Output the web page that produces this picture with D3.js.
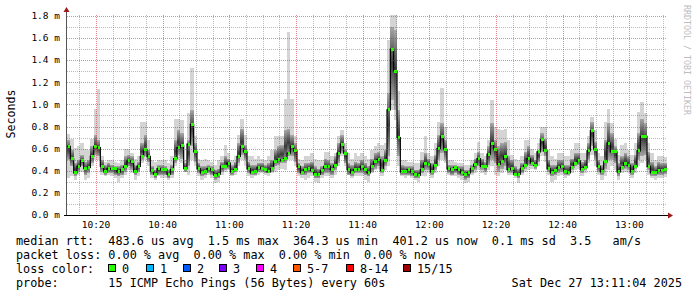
<!DOCTYPE html>
<html>
<head>
<meta charset="utf-8">
<script src="https://cdn.jsdelivr.net/npm/d3@7"></script>
<style>
  body { margin: 0; background: #fff; }
  svg { display: block; }
  text { font-family: "DejaVu Sans Mono", monospace; fill: #000; white-space: pre; }
</style>
</head>
<body>
<svg width="697" height="297"></svg>
<script>
// one value per minute, in ms
var median = [
  .62,.51,.38,.44,.49,.42,.43,.53,.62,.61, .44,.39,.42,.42,.42,.39,.41,.44,.49,.48,
  .39,.44,.53,.59,.53,.40,.37,.42,.41,.41, .37,.41,.51,.61,.63,.42,.64,.82,.57,.42,
  .38,.39,.42,.41,.36,.37,.44,.44,.47,.39, .41,.53,.62,.57,.42,.38,.39,.43,.42,.41,
  .39,.42,.48,.50,.49,.51,.56,.62,.58,.44, .38,.41,.42,.40,.37,.37,.40,.44,.44,.41,
  .45,.56,.64,.56,.41,.38,.41,.41,.44,.41, .38,.44,.48,.50,.40,.49,.95,1.50,1.30,.70,
  .39,.39,.41,.39,.37,.36,.41,.47,.46,.39, .45,.60,.71,.59,.42,.41,.43,.41,.38,.37,
  .38,.42,.46,.51,.44,.44,.55,.65,.59,.46, .48,.53,.41,.42,.37,.37,.42,.45,.51,.47,
  .45,.57,.68,.58,.42,.38,.40,.43,.44,.39, .38,.43,.47,.49,.41,.43,.58,.76,.59,.44,
  .39,.48,.65,.57,.57,.39,.43,.47,.45,.39, .44,.58,.71,.71,.44,.38,.38,.40,.40,.41
];
// fastest / slowest ping of each round (outer smoke)
var lo = [
  .33,.35,.32,.36,.39,.32,.33,.44,.50,.50, .36,.35,.36,.35,.33,.30,.33,.36,.41,.38,
  .32,.35,.47,.50,.44,.33,.32,.35,.33,.33, .32,.33,.44,.50,.47,.39,.36,.50,.44,.35,
  .32,.33,.36,.33,.29,.30,.36,.39,.41,.35, .36,.44,.50,.44,.35,.33,.35,.36,.38,.36,
  .35,.38,.39,.41,.42,.41,.50,.50,.44,.35, .33,.32,.33,.35,.30,.29,.33,.35,.35,.33,
  .36,.44,.53,.44,.36,.33,.35,.35,.35,.32, .30,.38,.41,.42,.35,.41,.44,.95,.86,.44,
  .35,.33,.35,.33,.32,.30,.35,.35,.38,.33, .38,.44,.50,.47,.36,.35,.35,.33,.32,.29,
  .30,.36,.38,.41,.38,.36,.41,.44,.36,.35, .38,.41,.36,.36,.33,.29,.36,.39,.41,.42,
  .41,.44,.53,.48,.36,.30,.32,.35,.36,.33, .35,.38,.41,.42,.35,.38,.47,.54,.44,.36,
  .32,.35,.41,.44,.41,.32,.38,.39,.38,.33, .38,.44,.47,.50,.36,.33,.32,.33,.33,.34
];
var hi = [
  .73,.69,.61,.62,.65,.60,.59,.69,.96,1.14, .53,.48,.50,.50,.48,.47,.50,.60,.60,.56,
  .51,.53,.84,.84,.68,.50,.48,.50,.50,.50, .47,.53,.87,.87,.86,.50,.92,1.33,.71,.51,
  .50,.51,.50,.48,.45,.50,.53,.63,.56,.50, .53,.72,.87,.72,.53,.53,.51,.53,.51,.50,
  .53,.59,.71,.71,.71,1.05,1.65,1.05,.71,.51, .50,.53,.53,.56,.51,.50,.50,.57,.57,.53,
  .56,.71,.77,.65,.56,.51,.56,.53,.56,.53, .51,.59,.62,.65,.63,.65,1.58,1.81,1.81,1.12,
  .50,.50,.48,.48,.47,.47,.57,.71,.56,.53, .65,.84,1.15,.80,.50,.50,.48,.47,.47,.45,
  .45,.50,.56,.66,.56,.53,.68,1.04,.80,.78, .77,.78,.68,.54,.51,.50,.53,.68,.68,.60,
  .56,.65,.80,.80,.59,.53,.51,.56,.56,.53, .53,.59,.65,.65,.56,.56,.71,.89,.77,.56,
  .53,.84,.96,.83,.69,.54,.63,.65,.59,.54, .65,.93,1.02,.92,.65,.56,.50,.53,.53,.52
];
// dense part of the smoke
var dlo = [
  .50,.44,.35,.39,.44,.36,.38,.47,.54,.53, .39,.36,.38,.38,.36,.35,.36,.39,.44,.41,
  .36,.39,.50,.53,.48,.36,.33,.36,.36,.36, .33,.36,.47,.54,.51,.39,.44,.62,.48,.38,
  .35,.36,.38,.36,.32,.33,.39,.41,.42,.36, .39,.47,.54,.50,.38,.36,.36,.39,.39,.38,
  .38,.39,.44,.45,.47,.47,.53,.53,.48,.38, .36,.36,.38,.38,.33,.33,.36,.38,.38,.36,
  .41,.47,.56,.47,.36,.35,.38,.38,.38,.36, .35,.39,.42,.44,.38,.44,.53,1.04,.95,.53,
  .36,.36,.36,.35,.33,.33,.38,.41,.41,.36, .41,.50,.56,.50,.38,.36,.38,.36,.35,.32,
  .33,.38,.41,.44,.41,.39,.45,.50,.47,.39, .42,.44,.38,.38,.35,.33,.38,.42,.45,.44,
  .42,.48,.57,.53,.39,.35,.36,.38,.39,.36, .36,.41,.44,.45,.38,.41,.50,.62,.50,.39,
  .36,.42,.50,.50,.47,.35,.41,.42,.41,.36, .42,.50,.53,.54,.41,.35,.35,.36,.36,.37
];
var dhi = [
  .68,.59,.47,.50,.54,.48,.50,.62,.72,.68, .50,.45,.47,.45,.44,.44,.45,.53,.54,.53,
  .45,.48,.65,.72,.59,.44,.41,.45,.45,.44, .41,.45,.68,.77,.74,.47,.68,.95,.65,.47,
  .44,.44,.45,.44,.41,.42,.48,.53,.51,.45, .48,.65,.78,.63,.48,.45,.45,.47,.47,.45,
  .47,.50,.59,.62,.63,.77,.78,.72,.65,.47, .44,.47,.47,.48,.44,.42,.44,.51,.50,.47,
  .53,.65,.72,.59,.47,.45,.48,.47,.50,.47, .44,.51,.56,.57,.53,.59,1.10,1.70,1.67,.95,
  .45,.44,.44,.44,.41,.41,.50,.56,.51,.47, .54,.72,.83,.68,.45,.45,.45,.44,.44,.41,
  .41,.45,.51,.57,.51,.48,.62,.83,.68,.62, .65,.66,.53,.50,.44,.42,.47,.57,.62,.54,
  .50,.59,.74,.69,.50,.45,.45,.50,.50,.45, .45,.51,.56,.56,.48,.50,.65,.84,.66,.50,
  .45,.68,.83,.74,.62,.47,.53,.56,.53,.47, .54,.74,.87,.83,.57,.48,.44,.48,.47,.47
];

var yMax = 1.8;
var lossLabels = ["0", "1", "2", "3", "4", "5-7", "8-14", "15/15"];
var lossColors = ["#26ff00", "#00b8ff", "#0059ff", "#7e00ff", "#ff00ff", "#ff5500", "#ff0000", "#a00000"];
var legendLines = [
  "median rtt:  483.6 us avg  1.5 ms max  364.3 us min  401.2 us now  0.1 ms sd  3.5   am/s",
  "packet loss: 0.00 % avg  0.00 % max  0.00 % min  0.00 % now",
  "loss color:",
  "probe:       15 ICMP Echo Pings (56 Bytes) every 60s"
];
var stamp = "Sat Dec 27 13:11:04 2025";

var svg = d3.select("svg");
var start = new Date(2025, 11, 27, 10, 11, 18),
    end = d3.timeMinute.offset(start, median.length);
var times = median.map(function (d, i) { return d3.timeMinute.offset(start, i); });

var x = d3.scaleTime().domain([start, end]).range([67, 667]);
var y = d3.scaleLinear().domain([0, yMax]).range([215, 15.9]);

var defs = svg.append("defs");
defs.append("clipPath").attr("id", "plotclip")
  .append("rect").attr("x", 67).attr("y", 14).attr("width", 600).attr("height", 201);
var grad = defs.append("linearGradient").attr("id", "smoke")
  .attr("x1", 0).attr("x2", 0).attr("y1", 0).attr("y2", 1);
grad.append("stop").attr("offset", "0").attr("stop-color", "#a8a8a8");
grad.append("stop").attr("offset", "0.5").attr("stop-color", "#3a3a3a");
grad.append("stop").attr("offset", "1").attr("stop-color", "#a8a8a8");

var plot = svg.append("g").attr("clip-path", "url(#plotclip)");
var stepW = function (i) { return x(d3.timeMinute.offset(times[i], 1)) - x(times[i]); };

plot.selectAll(".outer").data(median).enter().append("rect")
  .attr("class", "outer")
  .attr("shape-rendering", "crispEdges")
  .attr("x", function (d, i) { return x(times[i]); })
  .attr("width", function (d, i) { return stepW(i); })
  .attr("y", function (d, i) { return y(hi[i]); })
  .attr("height", function (d, i) { return y(lo[i]) - y(hi[i]); })
  .attr("fill", "#d4d4d4");

plot.selectAll(".inner").data(median).enter().append("rect")
  .attr("class", "inner")
  .attr("shape-rendering", "crispEdges")
  .attr("x", function (d, i) { return x(times[i]); })
  .attr("width", function (d, i) { return stepW(i); })
  .attr("y", function (d, i) { return y(dhi[i]); })
  .attr("height", function (d, i) { return y(dlo[i]) - y(dhi[i]); })
  .attr("fill", "url(#smoke)");

var pts = median.map(function (d, i) { return [x(times[i]), y(d)]; });
pts.push([x(end), y(median[median.length - 1])]);
plot.append("path")
  .attr("d", d3.line().curve(d3.curveStepAfter)(pts))
  .attr("fill", "none")
  .attr("stroke", "#000")
  .attr("stroke-width", 1.2);

plot.selectAll(".med").data(median).enter().append("rect")
  .attr("class", "med")
  .attr("shape-rendering", "crispEdges")
  .attr("x", function (d, i) { return x(times[i]) + 0.6; })
  .attr("width", function (d, i) { return stepW(i) - 0.6; })
  .attr("y", function (d) { return y(d) - 1.5; })
  .attr("height", 3)
  .attr("fill", lossColors[0]);

// grid on top, like rrdtool
var grid = svg.append("g").attr("shape-rendering", "crispEdges");
var minorY = d3.range(0, yMax + 0.01, 0.1), majorY = d3.range(0, yMax + 0.01, 0.2);
var minorX = d3.timeMinute.every(5).range(start, end), majorX = d3.timeMinute.every(20).range(start, end);
var minorCol = "rgba(90,90,90,0.42)", majorCol = "rgba(215,40,40,0.55)";

function hLines(vals, col) {
  grid.append("g").selectAll("line").data(vals).enter().append("line")
    .attr("x1", 67).attr("x2", 667)
    .attr("y1", function (d) { return Math.round(y(d)) + 0.5; })
    .attr("y2", function (d) { return Math.round(y(d)) + 0.5; })
    .attr("stroke", col).attr("stroke-dasharray", "1,1");
}
function vLines(vals, col) {
  grid.append("g").selectAll("line").data(vals).enter().append("line")
    .attr("y1", 15).attr("y2", 215)
    .attr("x1", function (d) { return Math.round(x(d)) + 0.5; })
    .attr("x2", function (d) { return Math.round(x(d)) + 0.5; })
    .attr("stroke", col).attr("stroke-dasharray", "1,1");
}
hLines(minorY.filter(function (d, i) { return i % 2 === 1; }), minorCol);
vLines(minorX.filter(function (d) { return d.getMinutes() % 20 !== 0; }), minorCol);
hLines(majorY.slice(1), majorCol);
vLines(majorX, majorCol);

// axes
svg.append("line").attr("x1", 66.5).attr("x2", 66.5).attr("y1", 11).attr("y2", 215)
  .attr("stroke", "#555");
svg.append("line").attr("x1", 64).attr("x2", 668).attr("y1", 215.5).attr("y2", 215.5)
  .attr("stroke", "#000");
svg.append("path").attr("d", "M63.5,12 L66.5,7 L69.5,12 Z").attr("fill", "#a01818");
svg.append("path").attr("d", "M668,212.5 L673,215.5 L668,218.5 Z").attr("fill", "#a01818");

svg.append("g").selectAll("text").data(majorY).enter().append("text")
  .attr("x", 60).attr("y", function (d) { return y(d); })
  .attr("dy", "0.35em").attr("text-anchor", "end")
  .style("font-size", "9.5px")
  .text(function (d) { return d3.format(".1f")(d) + " m"; });

svg.append("g").selectAll("text").data(majorX).enter().append("text")
  .attr("x", function (d) { return x(d); }).attr("y", 228)
  .attr("text-anchor", "middle")
  .style("font-size", "9.5px")
  .text(d3.timeFormat("%H:%M"));

svg.append("text")
  .attr("transform", "translate(15,114) rotate(-90)")
  .attr("text-anchor", "middle")
  .style("font-size", "11.6px")
  .text("Seconds");

svg.append("text")
  .attr("transform", "translate(684,5) rotate(90)")
  .style("font-size", "8.3px").style("fill", "#bdbdbd")
  .text("RRDTOOL / TOBI OETIKER");

// legend
var rowY = [244.5, 258.5, 272.5, 286.5];
var swatchX = [108, 146, 183, 219, 256, 293, 346, 403];

svg.append("g").selectAll("text").data(legendLines).enter().append("text")
  .attr("x", 16).attr("y", function (d, i) { return rowY[i]; })
  .style("font-size", "11.8px")
  .text(function (d) { return d; });
svg.append("text")
  .attr("x", 682).attr("y", rowY[3]).attr("text-anchor", "end")
  .style("font-size", "11.8px")
  .text(stamp);

var sw = svg.append("g").selectAll("g").data(lossLabels).enter().append("g");
sw.append("rect")
  .attr("x", function (d, i) { return swatchX[i] + 0.5; }).attr("y", 264.5)
  .attr("width", 7).attr("height", 7)
  .attr("fill", function (d, i) { return lossColors[i]; })
  .attr("stroke", "#000");
sw.append("text")
  .attr("x", function (d, i) { return swatchX[i] + 14; }).attr("y", rowY[2])
  .style("font-size", "11.8px")
  .text(function (d) { return d; });
</script>
</body>
</html>
